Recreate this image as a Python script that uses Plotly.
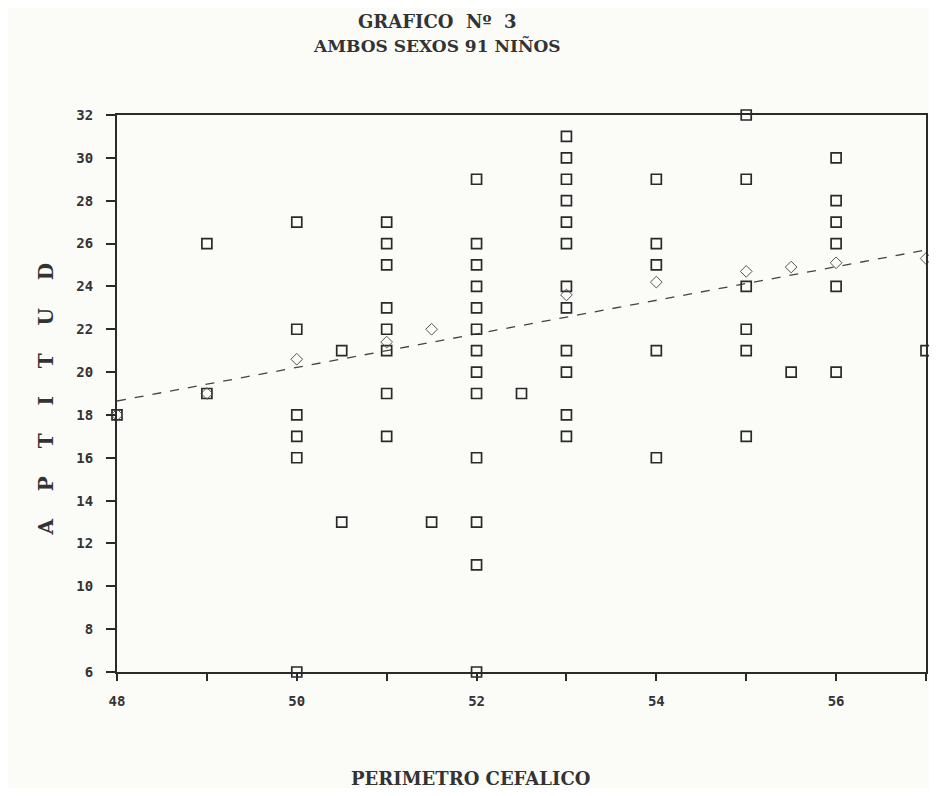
import plotly.graph_objects as go

# Squares: observed (perimetro cefalico, aptitud)
sq_x = [48,
        49, 49,
        50, 50, 50, 50, 50, 50,
        50.5, 50.5,
        51, 51, 51, 51, 51, 51, 51, 51,
        51.5,
        52, 52, 52, 52, 52, 52, 52, 52, 52, 52, 52, 52, 52,
        52.5,
        53, 53, 53, 53, 53, 53, 53, 53, 53, 53, 53, 53,
        54, 54, 54, 54, 54,
        55, 55, 55, 55, 55, 55,
        55.5,
        56, 56, 56, 56, 56, 56,
        57]
sq_y = [18,
        26, 19,
        27, 22, 18, 17, 16, 6,
        21, 13,
        27, 26, 25, 23, 22, 21, 19, 17,
        13,
        29, 26, 25, 24, 23, 22, 21, 20, 19, 16, 13, 11, 6,
        19,
        31, 30, 29, 28, 27, 26, 24, 23, 21, 20, 18, 17,
        29, 26, 25, 21, 16,
        32, 29, 24, 22, 21, 17,
        20,
        30, 28, 27, 26, 24, 20,
        21]

# Diamonds
dm_x = [48, 49, 50, 51, 51.5, 53, 54, 55, 55.5, 56, 57]
dm_y = [18, 19, 20.6, 21.4, 22, 23.6, 24.2, 24.7, 24.9, 25.1, 25.3]

# Regression line ends
fit_x = [48, 57]
fit_y = [18.65, 25.7]

x_ticks = [48, 50, 52, 54, 56]
y_ticks = [6, 8, 10, 12, 14, 16, 18, 20, 22, 24, 26, 28, 30, 32]

ink = "#2a2a2a"
serif = "DejaVu Serif"
nb = "&nbsp;" * 4
sp2 = "&nbsp;&nbsp;"

fig = go.Figure()
fig.add_trace(go.Scatter(x=fit_x, y=fit_y, mode="lines",
                         line=dict(color="#444444", width=1.3, dash="dash"),
                         showlegend=False, hoverinfo="skip"))
fig.add_trace(go.Scatter(x=sq_x, y=sq_y, mode="markers", cliponaxis=False,
                         marker=dict(symbol="square-open", size=10, color=ink,
                                     line=dict(width=1.7, color=ink)),
                         showlegend=False))
fig.add_trace(go.Scatter(x=dm_x, y=dm_y, mode="markers", cliponaxis=False,
                         marker=dict(symbol="diamond-open", size=9, color="#555555",
                                     line=dict(width=1, color="#555555")),
                         showlegend=False))

fig.update_layout(
    width=921, height=780,
    margin=dict(l=109, r=1, t=107, b=116),
    paper_bgcolor="#fbfbf8", plot_bgcolor="#fbfbf8",
    showlegend=False,
    annotations=[
        dict(text="<b>GRAFICO" + sp2 + "Nº" + sp2 + "3</b>", xref="paper", yref="paper",
             x=0.396, y=1.0, yshift=94, yanchor="middle", showarrow=False, xanchor="center",
             font=dict(family=serif, size=18, color="#333333")),
        dict(text="<b>AMBOS SEXOS 91 NIÑOS</b>", xref="paper", yref="paper",
             x=0.396, y=1.0, yshift=70, yanchor="middle", showarrow=False, xanchor="center",
             font=dict(family=serif, size=17, color="#333333")),
        dict(text="<b>" + nb.join("APTITUD") + "</b>", xref="paper", yref="paper",
             x=0, xshift=-72, y=0.5, yshift=-6, showarrow=False, textangle=-90,
             xanchor="center", yanchor="middle",
             font=dict(family=serif, size=20, color="#333333")),
        dict(text="<b>PERIMETRO CEFALICO</b>", xref="paper", yref="paper",
             x=0.4365, y=0, yshift=-106, yanchor="middle", showarrow=False, xanchor="center",
             font=dict(family=serif, size=18, color="#333333")),
    ],
)
fig.update_xaxes(range=[48, 57], tickmode="array", tickvals=list(range(48, 58)),
                 ticktext=[str(v) if v in x_ticks else "" for v in range(48, 58)],
                 ticks="outside", ticklen=7, tickwidth=1.5, tickcolor=ink,
                 ticklabelstandoff=8,
                 showline=True, linecolor=ink, linewidth=2, mirror=True,
                 showgrid=False, zeroline=False,
                 tickfont=dict(family="DejaVu Sans Mono", size=14, color="#333333", weight="bold"))
fig.update_yaxes(range=[6, 32], tickmode="array", tickvals=y_ticks,
                 ticktext=[str(v) for v in y_ticks],
                 ticks="outside", ticklen=9, tickwidth=1.5, tickcolor=ink,
                 ticklabelstandoff=10,
                 showline=True, linecolor=ink, linewidth=2, mirror=True,
                 showgrid=False, zeroline=False,
                 tickfont=dict(family="DejaVu Sans Mono", size=14, color="#333333", weight="bold"))

fig.write_html("out.html")
